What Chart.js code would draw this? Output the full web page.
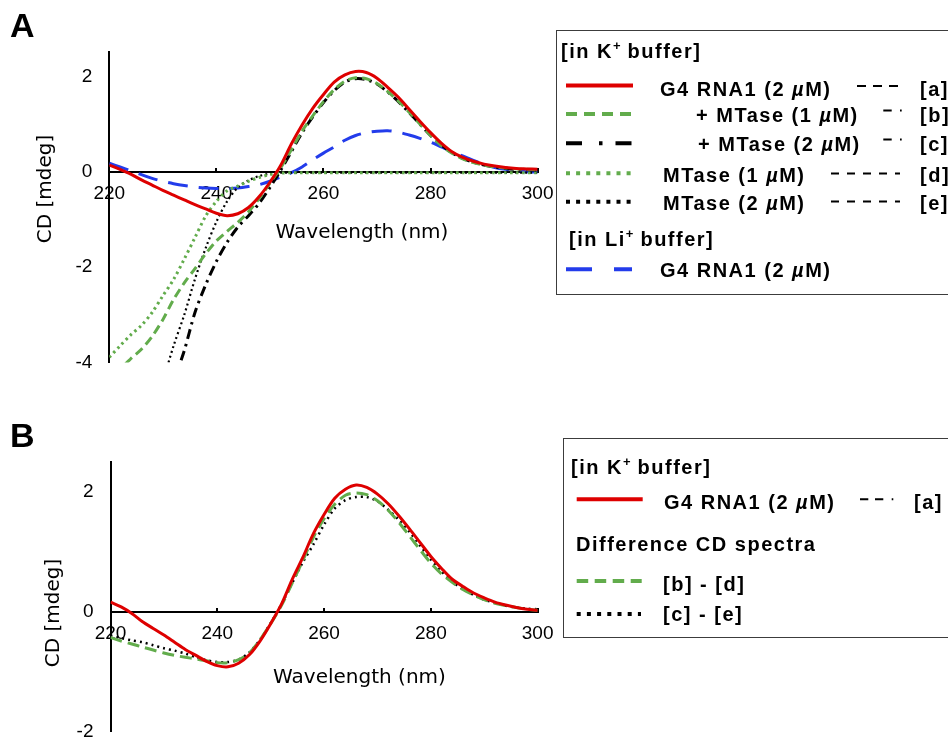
<!DOCTYPE html>
<html>
<head>
<meta charset="utf-8">
<script src="https://cdn.jsdelivr.net/npm/chart.js@4.4.1/dist/chart.umd.min.js"></script>
<style>
  body { margin: 0; width: 948px; height: 741px; overflow: hidden; background: #fff; position: relative; }
  canvas { position: absolute; left: 0; }
  .panel { position: absolute; left: 10px; font: bold 34px/34px "Liberation Sans", Arial, sans-serif; }
  .box { position: absolute; box-sizing: border-box; border: 1.5px solid #3c3c3c; background: #fff; width: 420px; }
  .t { position: absolute; font: bold 20px/24px "Liberation Sans", Arial, sans-serif; letter-spacing: 1.5px; white-space: nowrap; color: #000; }
  .t sup { font-size: 13px; vertical-align: 0; position: relative; top: -8px; letter-spacing: 0; }
  #keys { position: absolute; left: 0; top: 0; }
</style>
</head>
<body>
<canvas id="chartA" width="569" height="391" style="top:0"></canvas>
<canvas id="chartB" width="569" height="360" style="top:400px"></canvas>

<div class="panel" style="top:8px">A</div>
<div class="panel" style="top:418px">B</div>

<div class="box" style="left:556px;top:30px;height:265px"></div>
<div class="box" style="left:563px;top:438px;height:200px"></div>

<!-- legend keys -->
<svg id="keys" width="948" height="741">
  <g fill="none">
    <line x1="566" y1="85.5" x2="633" y2="85.5" stroke="rgb(222,0,0)" stroke-width="4"/>
    <line x1="566" y1="114" x2="631" y2="114" stroke="rgb(98,172,76)" stroke-width="4" stroke-dasharray="11 7"/>
    <line x1="566" y1="143.3" x2="631.5" y2="143.3" stroke="#000" stroke-width="4" stroke-dasharray="16 17 3.5 13 16 99"/>
    <line x1="566" y1="173.3" x2="630.7" y2="173.3" stroke="rgb(98,172,76)" stroke-width="4" stroke-dasharray="4 6.1"/>
    <line x1="566" y1="201.7" x2="630.7" y2="201.7" stroke="#000" stroke-width="4" stroke-dasharray="4 6.1"/>
    <line x1="566" y1="269.3" x2="632" y2="269.3" stroke="rgb(35,60,235)" stroke-width="4" stroke-dasharray="26 22"/>

    <line x1="857" y1="86" x2="898" y2="86" stroke="#000" stroke-width="2" stroke-dasharray="9 7"/>
    <line x1="883.3" y1="110.5" x2="901.7" y2="110.5" stroke="#000" stroke-width="2" stroke-dasharray="8.4 8.3 1.7 50"/>
    <line x1="883.3" y1="139.5" x2="901.7" y2="139.5" stroke="#000" stroke-width="2" stroke-dasharray="8.4 8.3 1.7 50"/>
    <line x1="831" y1="173.5" x2="900" y2="173.5" stroke="#000" stroke-width="2" stroke-dasharray="8 8"/>
    <line x1="831" y1="201.5" x2="900" y2="201.5" stroke="#000" stroke-width="2" stroke-dasharray="8 8"/>

    <line x1="576.7" y1="499.3" x2="642.7" y2="499.3" stroke="rgb(222,0,0)" stroke-width="4"/>
    <line x1="860" y1="499.3" x2="893.3" y2="499.3" stroke="#000" stroke-width="2" stroke-dasharray="8.3 6.7 8.3 8.4 1.6 99"/>
    <line x1="576.7" y1="581" x2="641.7" y2="581" stroke="rgb(98,172,76)" stroke-width="4" stroke-dasharray="11.5 6.5"/>
    <line x1="576.7" y1="614" x2="641" y2="614" stroke="#000" stroke-width="4" stroke-dasharray="4 6.2"/>
  </g>
</svg>

<div class="t" style="left:561px;top:38.8px">[in K<sup>+</sup> buffer]</div>
<div class="t" style="left:660px;top:76.8px">G4 RNA1 (2 <i>µ</i>M)</div>
<div class="t" style="left:696px;top:102.5px">+ MTase (1 <i>µ</i>M)</div>
<div class="t" style="left:698px;top:131.8px">+ MTase (2 <i>µ</i>M)</div>
<div class="t" style="left:663px;top:163px">MTase (1 <i>µ</i>M)</div>
<div class="t" style="left:663px;top:190.8px">MTase (2 <i>µ</i>M)</div>
<div class="t" style="left:569px;top:227.2px">[in Li<sup>+</sup> buffer]</div>
<div class="t" style="left:660px;top:257.5px">G4 RNA1 (2 <i>µ</i>M)</div>
<div class="t" style="left:920px;top:76.8px">[a]</div>
<div class="t" style="left:920px;top:102.5px">[b]</div>
<div class="t" style="left:920px;top:131.8px">[c]</div>
<div class="t" style="left:920px;top:163px">[d]</div>
<div class="t" style="left:920px;top:190.8px">[e]</div>

<div class="t" style="left:571px;top:455.2px">[in K<sup>+</sup> buffer]</div>
<div class="t" style="left:664px;top:490.2px">G4 RNA1 (2 <i>µ</i>M)</div>
<div class="t" style="left:914px;top:490.2px">[a]</div>
<div class="t" style="left:576px;top:531.8px">Difference CD spectra</div>
<div class="t" style="left:663px;top:571.8px">[b] - [d]</div>
<div class="t" style="left:663px;top:602.2px">[c] - [e]</div>

<script>
// wavelength grid (nm) and axis ticks
const wavelengths = [220, 222, 224, 226, 228, 230, 232, 234, 236, 238,
                     240, 242, 244, 246, 248, 250, 252, 254, 256, 258,
                     260, 262, 264, 266, 268, 270, 272, 274, 276, 278,
                     280, 282, 284, 286, 288, 290, 292, 294, 296, 298, 300];
const xTicks = [220, 240, 260, 280, 300];
const yTicksA = [-4, -2, 0, 2];
const yTicksB = [-2, 0, 2];

// panel A, CD [mdeg]
const rnaK = [0.14, 0.05, -0.05, -0.17, -0.28, -0.39, -0.49, -0.59, -0.69, -0.78,
              -0.87, -0.92, -0.88, -0.75, -0.52, -0.22, 0.13, 0.58, 0.98, 1.33,
              1.62, 1.88, 2.03, 2.10, 2.08, 1.96, 1.77, 1.56, 1.31, 1.06,
              0.82, 0.60, 0.42, 0.30, 0.22, 0.16, 0.12, 0.09, 0.07, 0.06, 0.05];
const rnaMtase1 = [-4.5, -4.15, -3.92, -3.72, -3.45, -3.10, -2.68, -2.33, -2.03, -1.72,
                   -1.45, -1.25, -1.06, -0.84, -0.56, -0.24, 0.08, 0.46, 0.85, 1.17,
                   1.47, 1.72, 1.90, 1.97, 1.95, 1.85, 1.68, 1.48, 1.25, 1.00,
                   0.76, 0.55, 0.39, 0.27, 0.19, 0.14, 0.10, 0.08, 0.06, 0.05, 0.04];
const rnaMtase2 = [null, null, null, null, null, null, -4.4, -3.75, -2.95, -2.37,
                   -1.88, -1.48, -1.16, -0.92, -0.66, -0.33, 0.03, 0.42, 0.82, 1.15,
                   1.45, 1.70, 1.88, 1.95, 1.93, 1.84, 1.67, 1.47, 1.24, 1.00,
                   0.76, 0.56, 0.40, 0.28, 0.20, 0.14, 0.10, 0.07, 0.05, 0.04, 0.03];
const mtase1 = [-3.89, -3.65, -3.42, -3.22, -2.95, -2.60, -2.26, -1.83, -1.38, -0.93,
                -0.62, -0.40, -0.30, -0.20, -0.12, -0.06, -0.03, -0.02, -0.02, -0.02,
                -0.02, -0.02, -0.02, -0.02, -0.02, -0.02, -0.02, -0.02, -0.02, -0.02,
                -0.02, -0.02, -0.02, -0.02, -0.02, -0.02, -0.02, -0.02, -0.02, -0.02, -0.02];
const mtase2 = [null, null, null, null, null, -4.4, -3.65, -3.0, -2.25, -1.6,
                -1.05, -0.62, -0.33, -0.18, -0.09, -0.04, -0.02, -0.02, -0.02, -0.02,
                -0.02, -0.02, -0.02, -0.02, -0.02, -0.02, -0.02, -0.02, -0.02, -0.02,
                -0.02, -0.02, -0.02, -0.02, -0.02, -0.02, -0.02, -0.02, -0.02, -0.02, -0.02];
const rnaLi = [0.18, 0.10, 0.02, -0.06, -0.14, -0.20, -0.25, -0.29, -0.32, -0.34,
               -0.35, -0.35, -0.34, -0.31, -0.27, -0.20, -0.11, -0.02, 0.10, 0.25,
               0.39, 0.52, 0.66, 0.76, 0.82, 0.85, 0.86, 0.83, 0.77, 0.70,
               0.62, 0.52, 0.42, 0.33, 0.24, 0.15, 0.09, 0.05, 0.02, 0.00, -0.01];

// panel B, CD [mdeg]
const rnaK_B = [0.16, 0.08, -0.03, -0.17, -0.28, -0.39, -0.51, -0.63, -0.73, -0.83,
                -0.90, -0.92, -0.86, -0.72, -0.49, -0.20, 0.12, 0.53, 0.90, 1.30,
                1.62, 1.89, 2.04, 2.11, 2.07, 1.96, 1.80, 1.60, 1.38, 1.15,
                0.92, 0.72, 0.54, 0.42, 0.31, 0.23, 0.16, 0.11, 0.07, 0.04, 0.02];
const diffBD = [-0.43, -0.49, -0.54, -0.59, -0.64, -0.69, -0.73, -0.76, -0.79, -0.82,
                -0.85, -0.85, -0.80, -0.69, -0.47, -0.20, 0.10, 0.47, 0.85, 1.24,
                1.55, 1.79, 1.94, 1.98, 1.95, 1.85, 1.69, 1.49, 1.26, 1.03,
                0.81, 0.63, 0.49, 0.37, 0.28, 0.20, 0.14, 0.10, 0.07, 0.04, 0.02];
const diffCE = [-0.40, -0.44, -0.48, -0.51, -0.56, -0.61, -0.65, -0.70, -0.76, -0.81,
                -0.84, -0.84, -0.80, -0.68, -0.47, -0.19, 0.12, 0.47, 0.82, 1.12,
                1.45, 1.72, 1.86, 1.91, 1.91, 1.84, 1.70, 1.53, 1.33, 1.10,
                0.87, 0.67, 0.50, 0.38, 0.28, 0.20, 0.15, 0.10, 0.07, 0.05, 0.04];

const RED = 'rgb(222, 0, 0)';
const GREEN = 'rgb(98, 172, 76)';
const BLUE = 'rgb(35, 60, 235)';

Chart.defaults.font.family = '"Liberation Sans", Arial, sans-serif';
Chart.defaults.font.size = 19;
Chart.defaults.color = '#000';

// axis titles drawn at fixed spots (the original puts them off-centre)
const axisTitles = {
  id: 'axisTitles',
  afterDraw(chart, args, opts) {
    const ctx = chart.ctx;
    ctx.save();
    ctx.fillStyle = '#000';
    ctx.font = '20px "DejaVu Sans"';
    ctx.textAlign = 'center';
    ctx.textBaseline = 'middle';
    ctx.fillText(opts.x.text, opts.x.cx, opts.x.cy);
    ctx.translate(opts.y.cx, opts.y.cy);
    ctx.rotate(-Math.PI / 2);
    ctx.fillText(opts.y.text, 0, 0);
    ctx.restore();
  }
};

function line(label, values, color, width, dash) {
  return {
    label: label,
    data: wavelengths.map((w, i) => ({x: w, y: values[i]})),
    borderColor: color,
    borderWidth: width,
    borderDash: dash,
    pointRadius: 0,
    tension: 0.3,
    fill: false
  };
}

function scales(yMin, yMax, yTicks, yWidth) {
  return {
    x: {
      type: 'linear',
      min: 220,
      max: 300,
      position: {y: 0},
      afterBuildTicks: (s) => { s.ticks = xTicks.map(v => ({value: v})); },
      ticks: {padding: 15.5, maxRotation: 0, minRotation: 0, autoSkip: false},
      grid: {drawOnChartArea: false, drawTicks: true, tickLength: -5, color: '#000', lineWidth: 2},
      border: {color: '#000', width: 2}
    },
    y: {
      type: 'linear',
      min: yMin,
      max: yMax,
      afterBuildTicks: (s) => { s.ticks = yTicks.map(v => ({value: v})); },
      afterFit: (s) => { s.width = yWidth; },
      ticks: {padding: 17},
      grid: {drawOnChartArea: false, drawTicks: false},
      border: {color: '#000', width: 2}
    }
  };
}

new Chart(document.getElementById('chartA'), {
  type: 'line',
  data: {
    datasets: [
      line('G4 RNA1 (2 µM)', rnaK, RED, 3, []),
      line('+ MTase (1 µM)', rnaMtase1, GREEN, 3, [9, 5]),
      line('+ MTase (2 µM)', rnaMtase2, '#000', 3, [10, 5, 2.5, 5]),
      line('MTase (1 µM)', mtase1, GREEN, 3, [2.5, 3.5]),
      line('MTase (2 µM)', mtase2, '#000', 2.2, [2, 3]),
      line('G4 RNA1 (2 µM), Li+', rnaLi, BLUE, 3, [20, 11])
    ]
  },
  options: {
    responsive: false,
    animation: false,
    events: [],
    layout: {padding: {top: 51.5, right: 0, bottom: 28.4, left: 0}},
    scales: scales(-4, 2.52, yTicksA, 109.3),
    plugins: {
      legend: {display: false},
      tooltip: {enabled: false},
      axisTitles: {
        x: {text: 'Wavelength (nm)', cx: 362, cy: 232.5},
        y: {text: 'CD [mdeg]', cx: 45.6, cy: 189}
      }
    }
  },
  plugins: [axisTitles]
});

new Chart(document.getElementById('chartB'), {
  type: 'line',
  data: {
    datasets: [
      line('G4 RNA1 (2 µM)', rnaK_B, RED, 3, []),
      line('[b] - [d]', diffBD, GREEN, 3, [12, 6]),
      line('[c] - [e]', diffCE, '#000', 2.5, [2, 4])
    ]
  },
  options: {
    responsive: false,
    animation: false,
    events: [],
    layout: {padding: {top: 61.7, right: 0, bottom: 28.3, left: 0}},
    scales: scales(-2, 2.5, yTicksB, 110.5),
    plugins: {
      legend: {display: false},
      tooltip: {enabled: false},
      axisTitles: {
        x: {text: 'Wavelength (nm)', cx: 359.5, cy: 278},
        y: {text: 'CD [mdeg]', cx: 53.3, cy: 213}
      }
    }
  },
  plugins: [axisTitles]
});
</script>
</body>
</html>
